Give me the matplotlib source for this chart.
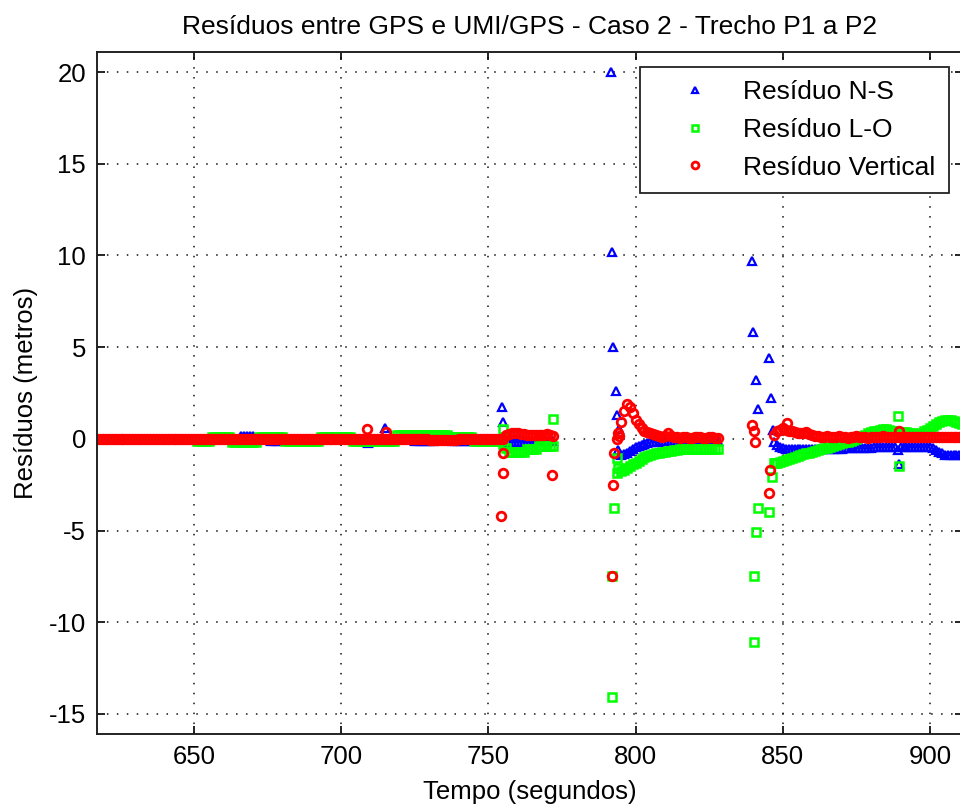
import numpy as np
import matplotlib
matplotlib.use("Agg")
import matplotlib.pyplot as plt

plt.rcParams['font.family'] = ['Liberation Sans', 'DejaVu Sans']
plt.rcParams['axes.unicode_minus'] = False

# ---------------- data ----------------
# regular 1-second samples in three GPS segments
tA = np.arange(617, 773)   # 617..772
tB = np.arange(794, 829)   # 794..828
tC = np.arange(847, 921)   # 847..920

ns_A = [0.0, 0.0, 0.0, 0.0, 0.0, 0.0, 0.0, 0.0, 0.0, 0.0, 0.0, 0.0, 0.0, 0.0, 0.0, 0.0, 0.0, 0.0, 0.0, 0.0,
        0.0, 0.0, 0.0, 0.0, 0.0, 0.0, 0.0, 0.0, 0.0, 0.0, 0.0, 0.0, 0.0, 0.0, 0.0, 0.0, 0.0, 0.0, 0.0, 0.0,
        0.0, 0.0, 0.0, 0.0, 0.0, 0.0, 0.0, 0.0, 0.0, 0.15, 0.15, 0.15, 0.15, 0.15, 0.0, 0.0, 0.0, 0.0, 0.0, -0.1,
        -0.1, -0.1, -0.1, 0.0, 0.0, 0.0, 0.0, 0.0, 0.0, 0.0, 0.0, 0.0, 0.0, 0.0, 0.0, 0.0, 0.0, 0.0, 0.0, 0.0,
        0.0, 0.0, 0.0, 0.0, 0.0, 0.0, 0.0, 0.0, 0.0, 0.0, 0.0, 0.0, 0.0, 0.0, 0.0, 0.0, 0.0, 0.0, 0.0, 0.0,
        0.0, 0.0, 0.0, 0.0, 0.0, 0.0, 0.0, 0.0, -0.1, -0.1, -0.1, -0.1, -0.1, -0.1, -0.1, 0.0, 0.0, 0.0, 0.0, 0.0,
        0.0, -0.1, -0.1, -0.1, -0.1, -0.1, -0.1, -0.1, -0.1, -0.1, -0.1, 0.0, 0.0, 0.0, 0.0, 0.0, 0.0, 0.0, 0.0, -0.2,
        -0.2, -0.2, -0.2, -0.2, -0.2, -0.2, -0.2, -0.2, -0.2, -0.1, -0.1, -0.1, -0.1, -0.1, -0.1, -0.1]
lo_A = [0.0, 0.0, 0.0, 0.0, 0.0, 0.0, 0.0, 0.0, 0.0, 0.0, 0.0, 0.0, 0.0, 0.0, 0.0, 0.0, 0.0, 0.0, 0.0, 0.0,
        0.0, 0.0, 0.0, 0.0, 0.0, 0.0, 0.0, 0.0, 0.0, 0.0, 0.0, 0.0, 0.0, 0.0, -0.1, -0.1, -0.1, -0.1, -0.1, 0.1,
        0.1, 0.1, 0.1, 0.1, 0.1, 0.1, -0.2, -0.2, -0.2, -0.2, -0.2, -0.2, -0.2, -0.2, -0.2, 0.1, 0.1, 0.1, 0.1, 0.1,
        0.1, 0.1, 0.1, 0.1, -0.1, -0.1, -0.1, -0.1, -0.1, -0.1, -0.1, -0.1, -0.1, -0.1, -0.1, -0.1, 0.1, 0.1, 0.1, 0.1,
        0.1, 0.1, 0.1, 0.1, 0.1, 0.1, 0.1, -0.1, -0.1, -0.1, -0.1, -0.1, -0.1, -0.1, -0.1, -0.1, -0.1, -0.1, -0.1, -0.1,
        -0.1, -0.1, 0.2, 0.2, 0.2, 0.2, 0.2, 0.2, 0.2, 0.2, 0.2, 0.2, 0.2, 0.2, 0.2, 0.2, 0.2, 0.2, 0.2, 0.2,
        0.1, 0.1, 0.1, 0.1, 0.1, 0.1, 0.1, 0.1, -0.1, -0.1, -0.1, -0.1, -0.1, -0.1, -0.1, -0.1, -0.1, -0.1, -0.3, -0.5,
        -0.7, -0.7, -0.7, -0.7, -0.7, -0.7, -0.55, -0.55, -0.55, -0.55, -0.4, -0.4, -0.4, -0.4, -0.4, -0.4]
vt_A = [0.0, 0.0, 0.0, 0.0, 0.0, 0.0, 0.0, 0.0, 0.0, 0.0, 0.0, 0.0, 0.0, 0.0, 0.0, 0.0, 0.0, 0.0, 0.0, 0.0,
        0.0, 0.0, 0.0, 0.0, 0.0, 0.0, 0.0, 0.0, 0.0, 0.0, 0.0, 0.0, 0.0, 0.0, 0.0, 0.0, 0.0, 0.0, 0.0, 0.0,
        0.0, 0.0, 0.0, 0.0, 0.0, 0.0, 0.0, 0.0, 0.0, 0.0, 0.0, 0.0, 0.0, 0.0, 0.0, 0.0, 0.0, 0.0, 0.0, 0.0,
        0.0, 0.0, 0.0, 0.0, 0.0, 0.0, 0.0, 0.0, 0.0, 0.0, 0.0, 0.0, 0.0, 0.0, 0.0, 0.0, 0.0, 0.0, 0.0, 0.0,
        0.0, 0.0, 0.0, 0.0, 0.0, 0.0, 0.0, 0.0, 0.0, 0.0, 0.0, 0.0, 0.0, 0.0, 0.0, 0.0, 0.0, 0.0, 0.0, 0.0,
        0.0, 0.0, 0.0, 0.0, 0.0, 0.0, 0.0, 0.0, 0.0, 0.0, 0.0, 0.0, 0.0, -0.05, -0.05, -0.05, -0.05, -0.05, -0.05, -0.05,
        -0.05, -0.05, -0.05, 0.0, 0.0, 0.0, 0.0, 0.0, 0.0, 0.0, 0.0, 0.0, 0.0, 0.0, 0.0, 0.0, 0.0, 0.0, 0.0, 0.2,
        0.25, 0.3, 0.3, 0.3, 0.25, 0.25, 0.2, 0.2, 0.2, 0.2, 0.2, 0.2, 0.2, 0.25, 0.2, 0.15]

ns_B = [-0.6, -0.9, -0.85, -0.75, -0.65, -0.55, -0.45, -0.4, -0.35, -0.3, -0.25, -0.2, -0.2, -0.15, -0.15,
        -0.1, -0.1, -0.1, -0.1, -0.1, -0.1, -0.1, -0.1, -0.1, -0.1, -0.1, -0.1, -0.1, -0.1, -0.1, -0.1, -0.1, -0.1, -0.1, -0.1]
lo_B = [-1.6, -1.75, -1.7, -1.6, -1.5, -1.4, -1.3, -1.2, -1.1, -1.0, -0.95, -0.9, -0.85, -0.8, -0.75, -0.7, -0.7,
        -0.65, -0.65, -0.6, -0.6, -0.55, -0.55, -0.55, -0.55, -0.55, -0.55, -0.55, -0.55, -0.55, -0.55, -0.55, -0.55, -0.55, -0.55]
vt_B = [0.3, 0.9, 1.5, 1.9, 1.75, 1.4, 1.05, 0.8, 0.6, 0.45, 0.35, 0.3, 0.25, 0.2, 0.15, 0.1, 0.15, 0.3, 0.15,
        0.1, 0.1, 0.05, 0.1, 0.1, 0.05, 0.05, 0.1, 0.1, 0.1, 0.05, 0.05, 0.1, 0.1, 0.05, 0.05]

ns_C = [-0.2, -0.35, -0.45, -0.5, -0.55, -0.55, -0.55, -0.55, -0.55, -0.55, -0.55, -0.55, -0.55, -0.55, -0.55,
        -0.55, -0.55, -0.55, -0.55, -0.55, -0.55, -0.55, -0.55, -0.55, -0.5, -0.5, -0.5, -0.5, -0.5, -0.5, -0.5,
        -0.5, -0.5, -0.5, -0.45, -0.45, -0.45, -0.45, -0.45, -0.45, -0.45, -0.45, -0.6, -0.45, -0.45, -0.45, -0.45,
        -0.45, -0.45, -0.45, -0.45, -0.45, -0.45, -0.45, -0.5, -0.6, -0.7, -0.8, -0.9, -0.9, -0.9, -0.9, -0.9,
        -0.9, -0.9, -0.9, -0.9, -0.9, -0.9, -0.9, -0.9, -0.9, -0.9, -0.9]
lo_C = [-1.3, -1.3, -1.25, -1.2, -1.15, -1.1, -1.05, -1.0, -0.95, -0.9, -0.85, -0.8, -0.75, -0.7, -0.65, -0.6,
        -0.55, -0.5, -0.5, -0.45, -0.4, -0.35, -0.3, -0.25, -0.2, -0.15, -0.1, -0.05, 0.0, 0.1, 0.15, 0.2, 0.3,
        0.35, 0.4, 0.45, 0.5, 0.55, 0.55, 0.5, 0.45, 0.4, 0.3, 0.3, 0.35, 0.35, 0.3, 0.3, 0.25, 0.25, 0.3, 0.4,
        0.5, 0.6, 0.7, 0.8, 0.9, 0.95, 1.0, 1.0, 1.0, 0.95, 0.9, 0.85, 0.8, 0.8, 0.8, 0.8, 0.8, 0.8, 0.8, 0.8,
        0.8, 0.8]
vt_C = [0.2, 0.4, 0.5, 0.6, 0.5, 0.45, 0.4, 0.35, 0.3, 0.3, 0.3, 0.35, 0.25, 0.2, 0.15, 0.15, 0.1, 0.1, 0.15,
        0.1, 0.1, 0.1, 0.15, 0.1, 0.1, 0.05, 0.1, 0.1, 0.15, 0.1, 0.1, 0.1, 0.05, 0.1, 0.1, 0.1, 0.1, 0.15, 0.1,
        0.1, 0.1, 0.1, 0.1, 0.1, 0.1, 0.1, 0.1, 0.1, 0.1, 0.1, 0.1, 0.1, 0.1, 0.1, 0.1, 0.1, 0.1, 0.1, 0.1, 0.1,
        0.1, 0.1, 0.1, 0.1, 0.1, 0.1, 0.1, 0.1, 0.1, 0.1, 0.1, 0.1, 0.1, 0.1]

# isolated samples (spikes after each GPS outage)
ns_spk_t = [709.0, 715.0, 754.6, 755.0, 791.6, 792.0, 792.2, 793.3, 793.7, 794.4,
            839.5, 839.9, 840.9, 841.6, 845.3, 846.0, 846.7, 889.3]
ns_spk_v = [-0.25, 0.6, 1.75, 0.9, 20.0, 10.2, 5.0, 2.6, 1.3, 0.55,
            9.7, 5.8, 3.2, 1.65, 4.4, 2.2, 0.5, -1.4]
lo_spk_t = [755.0, 772.0, 792.0, 792.0, 792.7, 793.7, 793.7,
            840.2, 840.2, 840.9, 841.6, 845.3, 846.3, 847.3, 889.0, 889.3]
lo_spk_v = [0.55, 1.1, -14.1, -7.5, -3.8, -1.85, -1.05,
            -11.1, -7.5, -5.1, -3.8, -4.0, -2.1, -1.3, 1.25, -1.5]
vt_spk_t = [708.8, 715.3, 754.4, 755.0, 755.0, 771.7, 792.0, 792.3, 792.5, 793.5, 794.5,
            839.6, 840.2, 840.6, 845.6, 845.3, 851.5, 889.5]
vt_spk_v = [0.55, 0.35, -4.2, -0.75, -1.85, -1.95, -7.5, -2.5, -0.75, 0.0, 0.15,
            0.75, 0.4, -0.15, -1.7, -2.95, 0.87, 0.45]

labels = ['Resíduo N-S', 'Resíduo L-O', 'Resíduo Vertical']
title = 'Resíduos entre GPS e UMI/GPS - Caso 2 - Trecho P1 a P2'
xlabel = 'Tempo (segundos)'
ylabel = 'Resíduos (metros)'
xticks = [650, 700, 750, 800, 850, 900]
yticks = [-15, -10, -5, 0, 5, 10, 15, 20]

# ---------------- figure ----------------
W, H = 960, 805
fig = plt.figure(figsize=(W / 100, H / 100), dpi=100)
x0, x1 = 617.0, 911.2
px_left = 97
px_right = 194 + (x1 - 650) * (736 / 250)
ax = fig.add_axes([px_left / W, (H - 734) / H, (px_right - px_left) / W, (734 - 52) / H])

def cat(*parts):
    return np.concatenate([np.asarray(p, dtype=float) for p in parts])

series = [
    (cat(tA, tB, tC, ns_spk_t), cat(ns_A, ns_B, ns_C, ns_spk_v), '^', '#0000ff', 5.8, 1.6),
    (cat(tA, tB, tC, lo_spk_t), cat(lo_A, lo_B, lo_C, lo_spk_v), 's', '#00ff00', 5.8, 1.8),
    (cat(tA, tB, tC, vt_spk_t), cat(vt_A, vt_B, vt_C, vt_spk_v), 'o', '#ff0000', 6.2, 2.0),
]
handles = []
for (t, v, m, c, ms, mew), lab in zip(series, labels):
    h, = ax.plot(t, v, linestyle='none', marker=m, markersize=ms, markerfacecolor='none',
                 markeredgecolor=c, markeredgewidth=mew, label=lab)
    handles.append(h)

ax.set_xlim(x0, x1)
ax.set_ylim(-16.1, 21.1)
ax.set_xticks(xticks)
ax.set_yticks(yticks)
ax.grid(True, linestyle=(0, (1, 5.5)), color='#111111', linewidth=1.1)
ax.tick_params(direction='in', length=6, width=1.2, top=True, right=True,
               labelsize=18.5, pad=8, colors='black')
for s in ax.spines.values():
    s.set_linewidth(1.4)
    s.set_color('#222222')

ax.set_title(title, fontsize=19, pad=13)
ax.set_xlabel(xlabel, fontsize=18.5, labelpad=8)
ax.set_ylabel(ylabel, fontsize=18.5, labelpad=8)

leg = ax.legend(handles=handles, loc='upper left',
                bbox_to_anchor=(640 / W, 1 - 67 / H), bbox_transform=fig.transFigure,
                fontsize=19, frameon=True, fancybox=False, framealpha=1,
                edgecolor='black', handlelength=3.2, handletextpad=0.22,
                borderpad=0.5, labelspacing=0.52, borderaxespad=0, markerscale=0.8)
leg.get_frame().set_linewidth(1.3)
leg.get_frame().set_edgecolor('#222222')

fig.savefig('out.png', dpi=100)
